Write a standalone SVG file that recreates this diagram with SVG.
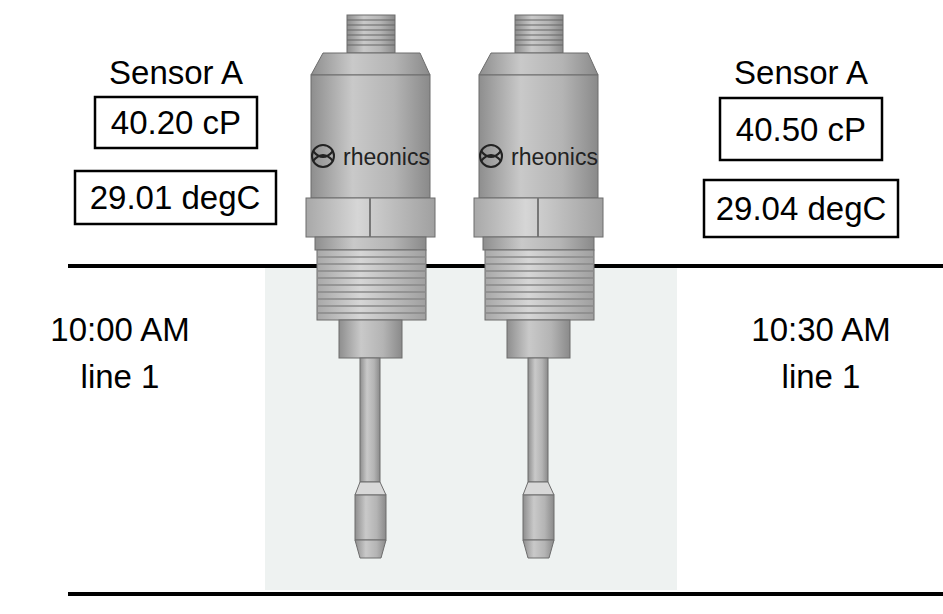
<svg xmlns="http://www.w3.org/2000/svg" width="943" height="614" viewBox="0 0 943 614">
<style>
text{font-family:"Liberation Sans",Arial,sans-serif;fill:#000;text-anchor:middle}
.lbl{font-size:33px}
.box{fill:#fff;stroke:#000;stroke-width:2.5}
.rule{stroke:#000;stroke-width:4}
.m{stroke:#6d6d6d;stroke-width:1}
</style>
<defs>
<linearGradient id="g" x1="0" x2="1" y1="0" y2="0">
<stop offset="0" stop-color="#8e8e8e"/><stop offset="0.35" stop-color="#c9c9c9"/><stop offset="0.7" stop-color="#b4b4b4"/><stop offset="1" stop-color="#8a8a8a"/>
</linearGradient>
<linearGradient id="gl" x1="0" x2="1" y1="0" y2="0">
<stop offset="0" stop-color="#a8a8a8"/><stop offset="0.4" stop-color="#d6d6d6"/><stop offset="1" stop-color="#a0a0a0"/>
</linearGradient>
<g id="sensor">
<rect x="347" y="15" width="48" height="38" fill="url(#g)" class="m"/>
<g stroke="#666" stroke-width="1.2"><line x1="347" y1="20" x2="395" y2="20"/><line x1="347" y1="25" x2="395" y2="25"/><line x1="347" y1="30" x2="395" y2="30"/><line x1="347" y1="35" x2="395" y2="35"/><line x1="347" y1="40" x2="395" y2="40"/><line x1="347" y1="45" x2="395" y2="45"/></g>
<polygon points="323,53 420,53 430,75 311,75" fill="url(#g)" class="m"/>
<rect x="311" y="75" width="119" height="123" fill="url(#g)" class="m"/>
<circle cx="323" cy="156" r="11" fill="none" stroke="#222" stroke-width="2"/>
<path d="M313,151 Q323,163 333,151 M313,161 Q323,149 333,161" fill="none" stroke="#222" stroke-width="2"/>
<text x="343" y="165" style="font-size:23px;fill:#222;text-anchor:start">rheonics</text>
<rect x="306" y="198" width="129" height="39" fill="url(#gl)" class="m"/>
<line x1="370" y1="198" x2="370" y2="237" stroke="#777" stroke-width="2"/>
<rect x="315" y="237" width="111" height="13" fill="url(#g)" class="m"/>
<rect x="317" y="250" width="109" height="70" fill="url(#gl)" class="m"/>
<g stroke="#888" stroke-width="1.5"><line x1="317" y1="257" x2="426" y2="257"/><line x1="317" y1="264" x2="426" y2="264"/><line x1="317" y1="271" x2="426" y2="271"/><line x1="317" y1="278" x2="426" y2="278"/><line x1="317" y1="285" x2="426" y2="285"/><line x1="317" y1="292" x2="426" y2="292"/><line x1="317" y1="299" x2="426" y2="299"/><line x1="317" y1="306" x2="426" y2="306"/><line x1="317" y1="313" x2="426" y2="313"/></g>
<rect x="339" y="320" width="63" height="38" fill="url(#g)" class="m"/>
<rect x="360" y="358" width="20" height="124" fill="url(#g)" class="m"/>
<polygon points="360,482 380,482 386,495 355,495" fill="#d8d8d8" class="m"/>
<rect x="355" y="495" width="31" height="45" fill="url(#g)" class="m"/>
<polygon points="355,540 386,540 381,558 360,558" fill="url(#g)" class="m"/>
</g>
</defs>
<rect width="943" height="614" fill="#fff"/>
<rect id="liquid" x="265" y="266" width="412" height="324" fill="#eef2f1"/>
<g id="pipe">
<line class="rule" x1="68" y1="266" x2="943" y2="266"/>
<line class="rule" x1="68" y1="594" x2="943" y2="594"/>
</g>
<g id="sensor1"><use href="#sensor"/></g>
<g id="sensor2"><use href="#sensor" x="168"/></g>
<g id="left">
<text class="lbl" x="176" y="84">Sensor A</text>
<rect class="box" x="95" y="97" width="162" height="51"/>
<text class="lbl" x="176" y="134">40.20 cP</text>
<rect class="box" x="75" y="171" width="201" height="53"/>
<text class="lbl" x="175" y="209">29.01 degC</text>
<text class="lbl" x="120" y="341">10:00 AM</text>
<text class="lbl" x="120" y="388">line 1</text>
</g>
<g id="right">
<text class="lbl" x="801" y="84">Sensor A</text>
<rect class="box" x="720" y="98" width="162" height="62"/>
<text class="lbl" x="801" y="141">40.50 cP</text>
<rect class="box" x="704" y="180" width="194" height="57"/>
<text class="lbl" x="801" y="220">29.04 degC</text>
<text class="lbl" x="821" y="341">10:30 AM</text>
<text class="lbl" x="821" y="388">line 1</text>
</g>
</svg>
